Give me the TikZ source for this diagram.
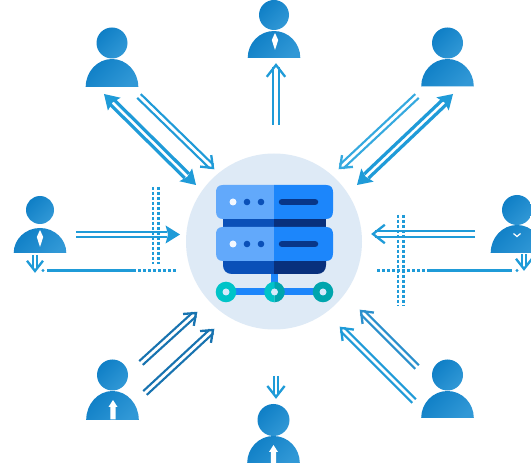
\documentclass[tikz,border=0pt]{standalone}
\usetikzlibrary{calc}
\definecolor{arrowblue}{HTML}{1F9BD8}
\definecolor{arrowlight}{HTML}{35A9DF}
\definecolor{arrowdark}{HTML}{1873B0}
\definecolor{arrowmid}{HTML}{2A8FCC}
\definecolor{halo}{HTML}{DEEAF6}
\definecolor{unitlight}{HTML}{62A9FB}
\definecolor{unitblue}{HTML}{1C86FB}
\definecolor{banddark}{HTML}{0A50B8}
\definecolor{banddeep}{HTML}{08307C}
\definecolor{tealL}{HTML}{00C4C8}
\definecolor{tealR}{HTML}{00A5AD}
\definecolor{pale}{HTML}{D8E9FB}
\definecolor{persona}{HTML}{0F7FC6}
\definecolor{personb}{HTML}{3198D6}
\tikzset{
  dotline/.style={arrowblue,line width=2.8pt,dash pattern=on 3.2pt off 1.8pt},
  gateline/.style={arrowblue,line width=2.3pt},
}
% person: cx, head cy, head r, body top, base
\newcommand\person[5]{%
  \shade[left color=persona,right color=personb,shading angle=45]
    (#1,#2) circle[radius=#3];
  \shade[left color=persona,right color=personb,shading angle=45]
    (#1-26.3,#5) arc[start angle=180,end angle=360,x radius=26.3,y radius=#5-#4] -- cycle;
}
\newcommand\tie[3]{\fill[white] (#1,#2) -- (#1+3.2,#2+7) -- (#1,#3) -- (#1-3.2,#2+7) -- cycle;}
\newcommand\uparrowtie[3]{\fill[white] (#1,#2) -- (#1+4.5,#2+7) -- (#1+2.6,#2+7) -- (#1+2.6,#3) -- (#1-2.6,#3) -- (#1-2.6,#2+7) -- (#1-4.5,#2+7) -- cycle;}
% twin: start, tip, colour, line width, half gap
\newcommand\twin[5]{%
  \draw[#3,line width=#4] ($(#1)!#5!90:(#2)$) -- ($($(#2)!2pt!(#1)$)!#5!-90:(#1)$);
  \draw[#3,line width=#4] ($(#1)!#5!-90:(#2)$) -- ($($(#2)!2pt!(#1)$)!#5!90:(#1)$);
}
% trimmed twin: stops short of a solid head at each named end
\newcommand\twincut[6]{%
  \coordinate (cutA) at ($(#1)!#6!(#2)$);
  \coordinate (cutB) at ($(#2)!11pt!(#1)$);
  \twin{cutA}{cutB}{#3}{#4}{#5}
}
\newcommand\barb[4][13pt]{%
  \draw[#4,line width=2.3pt,miter limit=10] ($(#3)!#1!38:(#2)$) -- (#3) -- ($(#3)!#1!-38:(#2)$);
}
\newcommand\solidhead[3]{%
  \fill[#3] (#2) -- ($(#2)!17pt!32:(#1)$) -- ($(#2)!12pt!(#1)$) -- ($(#2)!17pt!-32:(#1)$) -- cycle;
}
\newcommand\unit[2]{% top y, bottom y
  \fill[unitlight] (274,#1) -- (223,#1) .. controls (218,#1) and (216,#1+3) .. (216,#1+7)
    -- (216,#2-8) .. controls (216,#2-3) and (218,#2) .. (223,#2) -- (274,#2) -- cycle;
  \fill[unitblue] (274,#1) -- (326,#1) .. controls (331,#1) and (333,#1+3) .. (333,#1+7)
    -- (333,#2-8) .. controls (333,#2-3) and (331,#2) .. (326,#2) -- (274,#2) -- cycle;
  \fill[white!92!unitlight] (233,#1+17) circle[radius=3.5];
  \fill[banddark] (247,#1+17) circle[radius=3.3] (261,#1+17) circle[radius=3.3];
  \draw[banddeep!80!banddark,line width=6.5pt,line cap=round] (282,#1+17) -- (315,#1+17);
}
\begin{document}
\begin{tikzpicture}[x=1pt,y=-1pt]
\useasboundingbox (0,0) rectangle (531,465);
\fill[white] (0,0) rectangle (531,465);
\clip (0,0) rectangle (531,465);

% centre
\fill[halo] (274,241.5) circle[radius=88];
\fill[banddark] (223,219) rectangle (274,227);
\fill[banddeep] (274,219) rectangle (326,227);
\fill[banddark] (223,255) -- (274,255) -- (274,274) -- (232,274) .. controls (226,274) and (223,270) .. (223,265) -- cycle;
\fill[banddeep] (326,255) -- (274,255) -- (274,274) -- (317,274) .. controls (323,274) and (326,270) .. (326,265) -- cycle;
\unit{185}{219}
\unit{227}{261}
\fill[unitblue] (271,274) rectangle (278,292);
\fill[unitblue] (226,288.5) rectangle (323,295.5);
\fill[tealL] (226,292) circle[radius=10.3];
\fill[tealL] (274.5,302.3) arc[start angle=90,end angle=270,radius=10.3] -- cycle;
\fill[tealR] (274.5,302.3) arc[start angle=90,end angle=-90,radius=10.3] -- cycle;
\fill[tealR] (323,292) circle[radius=10.3];
\fill[pale] (226,292) circle[radius=3.5] (274.5,292) circle[radius=3.5] (323,292) circle[radius=3.5];

% people
\person{112}{43}{15.5}{59}{87}
\person{274}{15}{15}{31}{58}
\tie{275}{33}{50}
\person{447.5}{43}{15.5}{59}{86.5}
\person{40}{210}{14}{228}{253}
\tie{40}{230}{247}
\person{517}{210}{15}{225}{253}
\draw[white,line width=1.2pt] (513.5,233.5) -- (517,236.5) -- (520.5,233.5);
\person{112.5}{375}{15.5}{391}{420}
\uparrowtie{113}{400}{419.5}
\person{273.5}{420}{16}{436}{463}
\uparrowtie{273.5}{445}{463}
\person{447.5}{375}{15.5}{391}{418}

% anchors for connectors
\coordinate (tlA) at (139,96); \coordinate (tlB) at (213,168);
\coordinate (tlC) at (104,94); \coordinate (tlD) at (196,185);
\coordinate (trA) at (417,96); \coordinate (trB) at (340,168);
\coordinate (trC) at (453,94); \coordinate (trD) at (357,185);
\coordinate (tA) at (276,125); \coordinate (tB) at (276,65);
\coordinate (lA) at (76,234.5); \coordinate (lB) at (180,234.5);
\coordinate (rA) at (475,234); \coordinate (rB) at (373,234);
\coordinate (blA) at (141,363); \coordinate (blB) at (196,313);
\coordinate (blC) at (145,393); \coordinate (blD) at (213,330);
\coordinate (brA) at (417,367); \coordinate (brB) at (361,311);
\coordinate (brC) at (414,401); \coordinate (brD) at (341,328);
\coordinate (bA) at (276,376); \coordinate (bB) at (276,397);
\coordinate (slA) at (35,255); \coordinate (slB) at (35,271);
\coordinate (srA) at (524,254); \coordinate (srB) at (524,269);

% diagonal arrows
\twin{tlA}{tlB}{arrowblue}{2.1pt}{2.6pt}
\barb{tlA}{tlB}{arrowblue}
\twincut{tlC}{tlD}{arrowblue}{3.2pt}{3pt}{11pt}
\solidhead{tlC}{tlD}{arrowblue}
\solidhead{tlD}{tlC}{arrowblue}
\twin{trA}{trB}{arrowlight}{2.1pt}{2.6pt}
\barb{trA}{trB}{arrowlight}
\twincut{trC}{trD}{arrowblue}{3.2pt}{3pt}{11pt}
\solidhead{trC}{trD}{arrowblue}
\solidhead{trD}{trC}{arrowblue}
\twin{blA}{blB}{arrowdark}{2.1pt}{2.6pt}
\barb{blA}{blB}{arrowdark}
\twin{blC}{blD}{arrowdark}{2.1pt}{2.6pt}
\barb{blC}{blD}{arrowdark}
\twin{brA}{brB}{arrowmid}{2.1pt}{2.6pt}
\barb{brA}{brB}{arrowmid}
\twin{brC}{brD}{arrowblue}{2.1pt}{2.6pt}
\barb{brC}{brD}{arrowblue}

% vertical arrows
\twin{tA}{tB}{arrowblue}{2.3pt}{3.3pt}
\barb[15pt]{tA}{tB}{arrowblue}
\twin{bA}{bB}{arrowblue}{2pt}{2.4pt}
\barb[14pt]{bA}{bB}{arrowblue}

% left gate
\draw[dotline] (153,187) -- (153,264);
\draw[dotline] (158.5,187) -- (158.5,264);
\twincut{lA}{lB}{arrowblue}{2.1pt}{2.6pt}{0pt}
\solidhead{lA}{lB}{arrowblue}
\draw[dotline] (133,270.5) -- (176,270.5);
\draw[gateline] (47,270.5) -- (133,270.5);
\fill[arrowblue] (43,270.5) circle[radius=1.6];
\twin{slA}{slB}{arrowblue}{2.1pt}{2.2pt}
\barb[13pt]{slA}{slB}{arrowblue}

% right gate
\draw[dotline] (398,215) -- (398,306);
\draw[dotline] (403.5,215) -- (403.5,306);
\twin{rA}{rB}{arrowblue}{2.1pt}{2.8pt}
\barb[15pt]{rA}{rB}{arrowblue}
\draw[dotline] (377,270.5) -- (430,270.5);
\draw[gateline] (430,270.5) -- (512,270.5);
\fill[arrowblue] (517,270.5) circle[radius=1.6];
\twin{srA}{srB}{arrowblue}{2.1pt}{2.2pt}
\barb[13pt]{srA}{srB}{arrowblue}
\end{tikzpicture}
\end{document}
